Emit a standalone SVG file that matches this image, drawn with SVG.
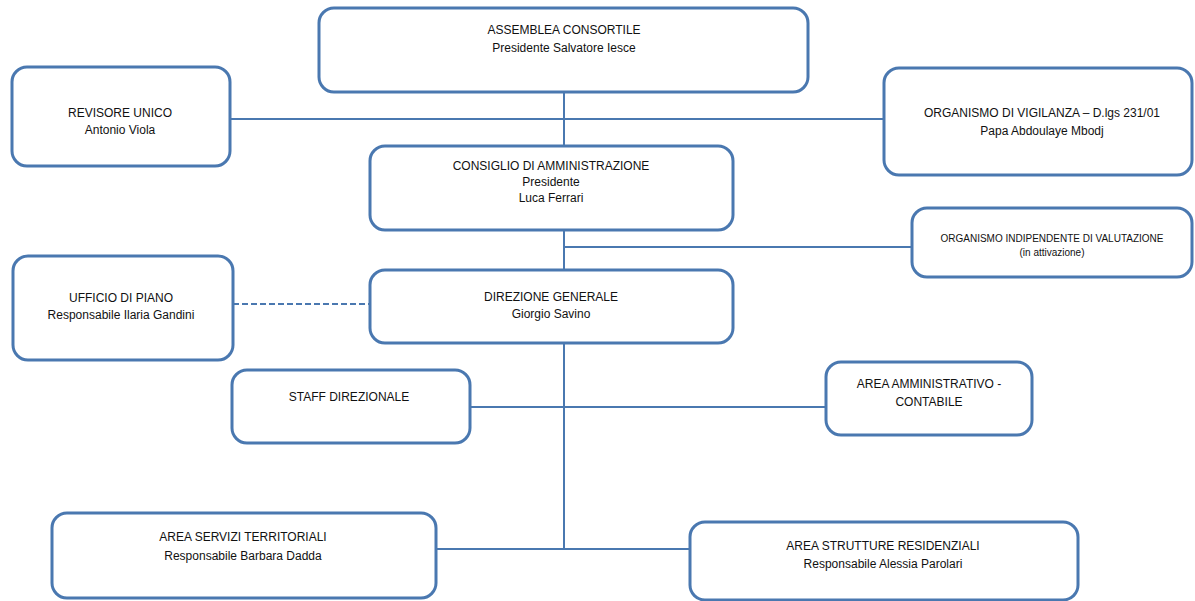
<svg xmlns="http://www.w3.org/2000/svg" width="1195" height="601" viewBox="0 0 1195 601">
<style>
.box{fill:#fff;stroke:#4a78b0;stroke-width:3}
.ln{stroke:#4a78b0;stroke-width:2;fill:none}
.dash{stroke:#4a78b0;stroke-width:2;fill:none;stroke-dasharray:6 3}
text{font-family:"Liberation Sans",Arial,sans-serif;font-size:12px;fill:#111;text-anchor:middle}
.sm{font-size:10px}
</style>
<rect width="1195" height="601" fill="#fff"/>
<g id="connectors">
<line class="ln" x1="564" y1="92" x2="564" y2="146"/>
<line class="ln" x1="230" y1="119" x2="884" y2="119"/>
<line class="ln" x1="564" y1="230" x2="564" y2="270"/>
<line class="ln" x1="564" y1="247" x2="912" y2="247"/>
<line class="dash" x1="233" y1="304" x2="370" y2="304"/>
<line class="ln" x1="564" y1="343" x2="564" y2="549"/>
<line class="ln" x1="470" y1="407" x2="826" y2="407"/>
<line class="ln" x1="436" y1="549" x2="690" y2="549"/>
</g>
<g id="assemblea">
<rect class="box" x="319" y="8" width="489" height="84" rx="15"/>
<text x="564" y="34">ASSEMBLEA CONSORTILE</text>
<text x="564" y="52">Presidente Salvatore Iesce</text>
</g>
<g id="revisore">
<rect class="box" x="12" y="67" width="218" height="99" rx="15"/>
<text x="120" y="117">REVISORE UNICO</text>
<text x="120" y="134">Antonio Viola</text>
</g>
<g id="vigilanza">
<rect class="box" x="884" y="68" width="308" height="107" rx="15"/>
<text x="1042" y="117">ORGANISMO DI VIGILANZA – D.lgs 231/01</text>
<text x="1042" y="135">Papa Abdoulaye Mbodj</text>
</g>
<g id="consiglio">
<rect class="box" x="370" y="146" width="363" height="84" rx="15"/>
<text x="551" y="170">CONSIGLIO DI AMMINISTRAZIONE</text>
<text x="551" y="186">Presidente</text>
<text x="551" y="202">Luca Ferrari</text>
</g>
<g id="oiv">
<rect class="box" x="912" y="208" width="280" height="69" rx="15"/>
<text class="sm" x="1052" y="242">ORGANISMO INDIPENDENTE DI VALUTAZIONE</text>
<text class="sm" x="1052" y="256">(in attivazione)</text>
</g>
<g id="ufficio">
<rect class="box" x="13" y="256" width="220" height="104" rx="15"/>
<text x="121" y="302">UFFICIO DI PIANO</text>
<text x="121" y="319">Responsabile Ilaria Gandini</text>
</g>
<g id="direzione">
<rect class="box" x="370" y="270" width="363" height="73" rx="15"/>
<text x="551" y="301">DIREZIONE GENERALE</text>
<text x="551" y="318">Giorgio Savino</text>
</g>
<g id="staff">
<rect class="box" x="232" y="370" width="238" height="73" rx="15"/>
<text x="349" y="401">STAFF DIREZIONALE</text>
</g>
<g id="amministrativo">
<rect class="box" x="826" y="362" width="206" height="73" rx="15"/>
<text x="929" y="388">AREA AMMINISTRATIVO -</text>
<text x="929" y="406">CONTABILE</text>
</g>
<g id="servizi">
<rect class="box" x="52" y="513" width="384" height="85" rx="15"/>
<text x="243" y="541">AREA SERVIZI TERRITORIALI</text>
<text x="243" y="560">Responsabile Barbara Dadda</text>
</g>
<g id="residenziali">
<rect class="box" x="690" y="522" width="388" height="78" rx="15"/>
<text x="883" y="550">AREA STRUTTURE RESIDENZIALI</text>
<text x="883" y="568">Responsabile Alessia Parolari</text>
</g>
</svg>
